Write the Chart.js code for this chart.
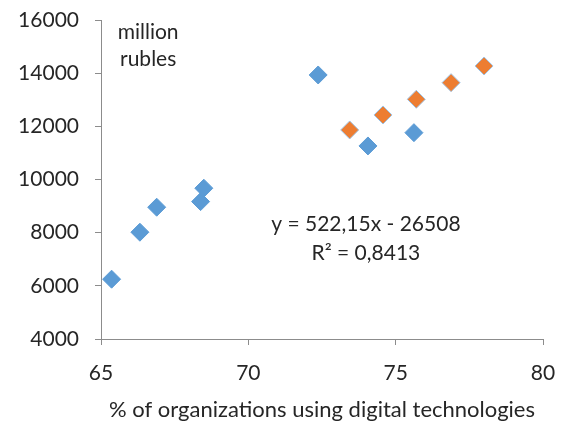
<!DOCTYPE html>
<html>
<head>
<meta charset="utf-8">
<script src="https://cdn.jsdelivr.net/npm/chart.js@4"></script>
<style>
  html, body { margin: 0; padding: 0; background: #fff; }
  #wrap { width: 565px; height: 423px; }
</style>
</head>
<body>
<div id="wrap"><canvas id="scatter"></canvas></div>
<script>
'use strict';

// series 1 (blue)
const blueX = [65.36, 66.32, 66.89, 68.38, 68.49, 72.37, 74.06, 75.62];
const blueY = [6250, 8017, 8957, 9168, 9672, 13932, 11262, 11762];
// series 2 (orange)
const orangeX = [73.44, 74.57, 75.70, 76.88, 78.00];
const orangeY = [11864, 12428, 13018, 13643, 14270];

const xTicks = [65, 70, 75, 80];
const yTicks = [4000, 6000, 8000, 10000, 12000, 14000, 16000];

const unitLabel = ['million', 'rubles'];
const trendLabel = ['y = 522,15x - 26508', 'R\u00B2 = 0,8413'];
const xTitle = '% of organizations using digital technologies';

const font = 'Lato, "Open Sans", sans-serif';
const axisColor = '#8c8c8c';
const textColor = '#262626';

function toPoints(xs, ys) {
    return xs.map((x, i) => ({ x: x, y: ys[i] }));
}

// free text placed in data coordinates
const notes = {
    id: 'notes',
    afterDatasetsDraw(chart) {
        const ctx = chart.ctx;
        const sx = chart.scales.x, sy = chart.scales.y;
        ctx.save();
        ctx.fillStyle = textColor;
        ctx.font = '21px ' + font;
        ctx.textBaseline = 'middle';
        ctx.textAlign = 'center';
        ctx.fillText(unitLabel[0], sx.getPixelForValue(66.6), sy.getPixelForValue(15550));
        ctx.fillText(unitLabel[1], sx.getPixelForValue(66.6), sy.getPixelForValue(14530));
        ctx.fillText(trendLabel[0], sx.getPixelForValue(73.99), sy.getPixelForValue(8300));
        ctx.fillText(trendLabel[1], sx.getPixelForValue(73.99), sy.getPixelForValue(7230));
        ctx.restore();
    }
};

new Chart(document.getElementById('scatter').getContext('2d'), {
    type: 'scatter',
    data: {
        datasets: [{
            data: toPoints(blueX, blueY),
            pointStyle: 'rectRot',
            pointRadius: 9,
            pointHoverRadius: 9,
            backgroundColor: '#5b9bd5',
            borderColor: '#5b9bd5',
            borderWidth: 1
        }, {
            data: toPoints(orangeX, orangeY),
            pointStyle: 'rectRot',
            pointRadius: 9,
            pointHoverRadius: 9,
            backgroundColor: '#ed7d31',
            borderColor: '#9dc3e6',
            borderWidth: 1
        }]
    },
    options: {
        responsive: true,
        maintainAspectRatio: false,
        animation: false,
        layout: { padding: { left: 0, right: 22, top: 20, bottom: 0 } },
        plugins: {
            legend: { display: false },
            tooltip: { enabled: false }
        },
        scales: {
            x: {
                type: 'linear',
                min: 65,
                max: 80,
                afterBuildTicks: (s) => { s.ticks = xTicks.map(v => ({ value: v })); },
                afterFit: (s) => { s.height = 84; s.paddingLeft = 0; s.paddingRight = 0; },
                grid: { display: true, drawOnChartArea: false, drawTicks: true, tickLength: 6, color: axisColor },
                border: { color: axisColor, width: 1 },
                ticks: { color: textColor, font: { family: font, size: 21 }, padding: 16, maxRotation: 0 },
                title: {
                    display: true,
                    text: xTitle,
                    color: textColor,
                    font: { family: font, size: 22 },
                    padding: { top: 0, bottom: 0 }
                }
            },
            y: {
                type: 'linear',
                min: 4000,
                max: 16000,
                afterBuildTicks: (s) => { s.ticks = yTicks.map(v => ({ value: v })); },
                afterFit: (s) => { s.width = 101; s.paddingTop = 0; s.paddingBottom = 0; },
                grid: { display: true, drawOnChartArea: false, drawTicks: true, tickLength: 6, color: axisColor },
                border: { color: axisColor, width: 1 },
                ticks: {
                    color: textColor,
                    font: { family: font, size: 21 },
                    padding: 16,
                    callback: (v) => String(v)
                }
            }
        }
    },
    plugins: [notes]
});
</script>
</body>
</html>
